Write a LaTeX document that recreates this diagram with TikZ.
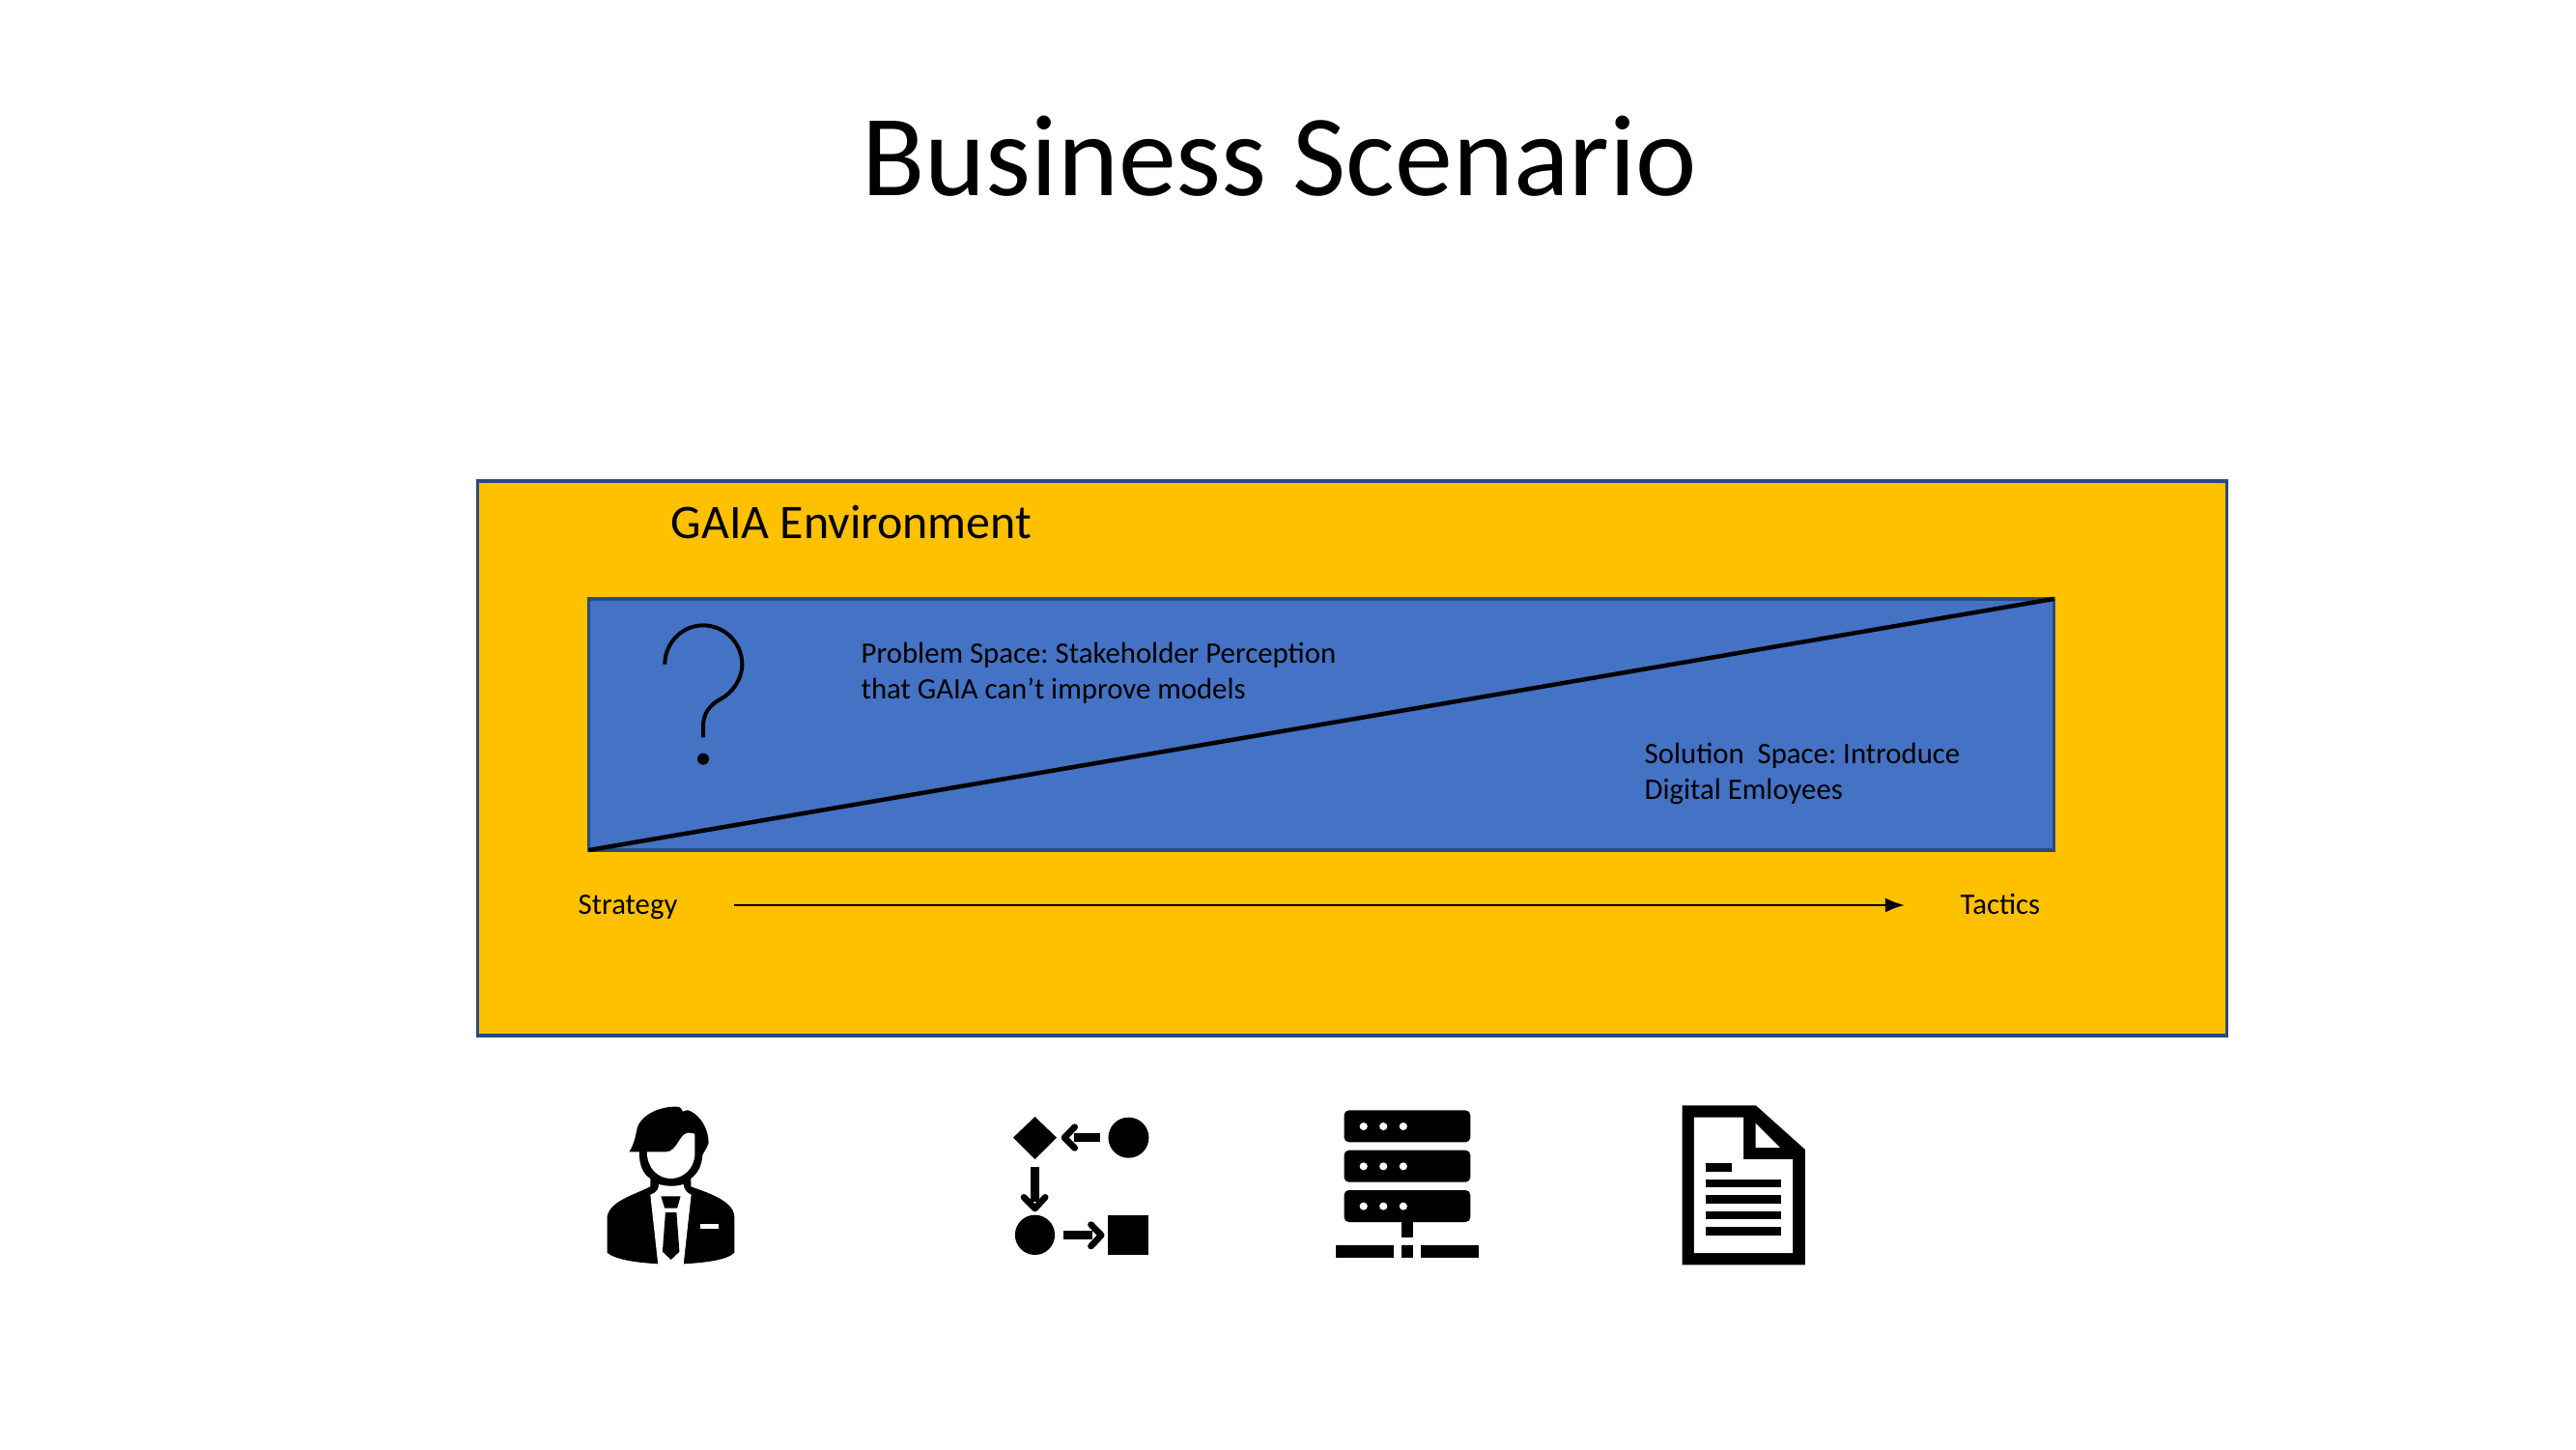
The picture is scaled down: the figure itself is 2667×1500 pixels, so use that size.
\documentclass[tikz,border=0pt]{standalone}
\usepackage{fontspec}
\setmainfont{Carlito}
\usetikzlibrary{arrows.meta}
\definecolor{gaiayellow}{HTML}{FFC000}
\definecolor{spaceblue}{HTML}{4472C4}
\definecolor{edgeblue}{HTML}{2A4A80}
\frenchspacing
\tikzset{
  panel/.style={draw=edgeblue, line width=0.35mm, inner sep=0pt, outer sep=0pt},
  caption/.style={align=left, anchor=west, inner sep=0pt, font=\fontsize{8.75}{10.6}\selectfont},
  axislabel/.style={caption, text height=1.6ex, text depth=0.5ex},
  iconline/.style={line width=0.667mm, line cap=round, line join=round}
}
\begin{document}
\begin{tikzpicture}[x=0.01cm, y=-0.01cm]
  \useasboundingbox (0, 0) rectangle (2667, 1500);
  \node (title) at (1325, 162) {\fontsize{34.1}{41}\selectfont Business Scenario};
  \node (env) at (1400, 785) [panel, fill=gaiayellow, minimum width=18.1cm, minimum height=5.74cm] {};
  \node (envlabel) at (694, 540) [anchor=west, inner sep=0pt] {\fontsize{14.2}{17}\selectfont GAIA Environment};
  \node (space) at (1368, 750) [panel, fill=spaceblue, minimum width=15.16cm, minimum height=2.6cm] {};
  \node (problem) at (891, 697) [caption] {Problem Space: Stakeholder Perception\\that GAIA can’t improve models};
  \node (solution) at (1702, 801) [caption] {Solution\ \ Space: Introduce\\Digital Emloyees};
  \node (strategy) at (598, 937) [axislabel] {Strategy};
  \node (tactics) at (2029, 937) [axislabel] {Tactics};

  \draw[black, line width=0.45mm] (space.south west) -- (space.north east);
  \draw[-{Latex[length=2mm, width=1.5mm]}, line width=0.25mm, shorten <=0.58cm, shorten >=0.57cm] (strategy.east) -- (tactics.west);

  \begin{scope}[shift={(590, 610)}, scale=1/3]
    \draw[line width=0.4mm] (295, 233) .. controls (295, 167) and (348, 112) .. (414, 112) .. controls (481, 112) and (535, 167) .. (535, 233) .. controls (535, 280) and (505, 320) .. (470, 340) .. controls (435, 358) and (414, 385) .. (414, 425) -- (414, 460);
    \fill (414, 527) circle (18);
  \end{scope}

  \begin{scope}[shift={(600, 1130)}, xscale=1/2.62, yscale=1/3]
    \fill (135, 187) .. controls (150, 160) and (155, 120) .. (157, 110) .. controls (170, 70) and (220, 45) .. (265, 47) .. controls (275, 48) and (278, 55) .. (280, 62) .. controls (285, 60) and (292, 55) .. (300, 60) .. controls (335, 80) and (350, 125) .. (350, 160) .. controls (345, 178) and (335, 190) .. (333, 200) .. controls (332, 230) and (320, 255) .. (302, 270) -- (302, 295) .. controls (350, 315) and (420, 340) .. (420, 390) -- (420, 500) .. controls (400, 525) and (330, 532) .. (282, 535) -- (213, 535) .. controls (170, 532) and (100, 525) .. (75, 500) -- (75, 390) .. controls (80, 340) and (150, 320) .. (192, 295) -- (192, 270) .. controls (172, 255) and (162, 230) .. (162, 187) -- cycle;
    \fill[white] (183, 187) -- (235, 187) .. controls (265, 187) and (270, 130) .. (295, 128) .. controls (305, 128) and (310, 130) .. (313, 132) -- (313, 190) .. controls (313, 240) and (280, 270) .. (248, 270) .. controls (215, 270) and (183, 240) .. (183, 187) -- cycle;
    \fill[white] (192, 320) .. controls (210, 315) and (215, 300) .. (215, 288) .. controls (240, 295) and (260, 295) .. (282, 288) .. controls (282, 300) and (290, 315) .. (303, 320) -- (282, 537) -- (213, 537) -- cycle;
    \fill (221, 325) -- (274, 325) -- (265, 362) -- (231, 362) -- cycle;
    \fill (233, 375) -- (263, 375) -- (271, 497) -- (248, 522) -- (225, 497) -- cycle;
    \fill[white] (328, 411) rectangle (377, 425);
  \end{scope}

  \begin{scope}[shift={(602, 1131)}, xscale=1/2.62, yscale=1/3]
    \fill (1230, 75) -- (1289, 140) -- (1230, 207) -- (1171, 140) -- cycle;
    \fill (1484, 140) ellipse [x radius=55, y radius=63];
    \fill (1230, 442) ellipse [x radius=54, y radius=62];
    \fill (1429, 380) rectangle (1538, 505);
    \fill (1335, 127) rectangle (1408, 153);
    \fill (1219, 232) rectangle (1241, 340);
    \fill (1307, 430) rectangle (1385, 456);
    \draw[iconline] (1338, 107) -- (1310, 140) -- (1338, 172);
    \draw[iconline] (1200, 325) -- (1230, 360) -- (1258, 325);
    \draw[iconline] (1382, 410) -- (1410, 443) -- (1382, 477);
  \end{scope}

  \begin{scope}[shift={(1360, 1131)}, xscale=1/2.92, yscale=1/3]
    \foreach \rowtop in {55, 179, 303} {
      \fill[rounded corners=0.05cm] (92, \rowtop) rectangle (474, \rowtop + 99);
      \foreach \dotx in {151, 211, 271}
        \fill[white] (\dotx, \rowtop + 50) circle (12);
    }
    \fill (265, 402) rectangle (301, 450);
    \fill (67, 475) rectangle (241, 513);
    \fill (265, 475) rectangle (301, 513);
    \fill (325, 475) rectangle (498, 513);

    \fill (1114, 40) -- (1337, 40) -- (1486, 177) -- (1486, 535) -- (1114, 535) -- cycle;
    \fill[white] (1150, 77) -- (1300, 77) -- (1300, 207) -- (1449, 207) -- (1449, 498) -- (1150, 498) -- cycle;
    \fill[white] (1336, 95) -- (1410, 171) -- (1336, 171) -- cycle;
    \fill (1186, 220) rectangle (1263, 245);
    \foreach \rowtop in {270, 319, 369, 418}
      \fill (1186, \rowtop) rectangle (1413, \rowtop + 25);
  \end{scope}
\end{tikzpicture}
\end{document}
